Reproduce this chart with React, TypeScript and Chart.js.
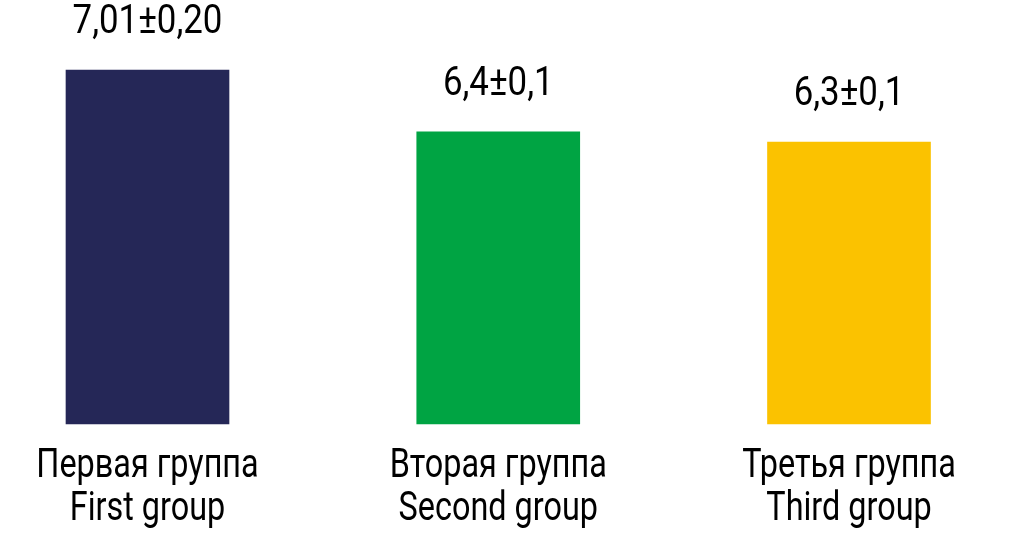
import React, { useEffect, useRef } from "react";
import { Chart, registerables } from "chart.js";

Chart.register(...registerables);

const categories: string[][] = [
  ["Первая группа", "First group"],
  ["Вторая группа", "Second group"],
  ["Третья группа", "Third group"],
];
const values: number[] = [7.01, 6.4, 6.3];
const valueLabels: string[] = ["7,01±0,20", "6,4±0,1", "6,3±0,1"];
const barColors: string[] = ["#252757", "#00a443", "#fbc200"];
const yMin = 3.52;
const yMax = 7.7;

const FONT = 'Roboto, "DejaVu Sans Condensed", sans-serif';
const FONT_SIZE = 41;
const SQUEEZE_VALUE = 0.85;
const SQUEEZE_CAT = 0.79;

function drawSqueezed(ctx: CanvasRenderingContext2D, text: string, x: number, y: number, sx: number) {
  ctx.save();
  ctx.translate(x, y);
  ctx.scale(sx, 1);
  ctx.fillText(text, 0, 0);
  ctx.restore();
}

const labelPlugin = {
  id: "textLabels",
  afterDraw(chart: any) {
    const ctx: CanvasRenderingContext2D = chart.ctx;
    const meta = chart.getDatasetMeta(0);
    const xScale = chart.scales.x;
    const bottom = chart.chartArea.bottom;
    ctx.save();
    ctx.font = `400 ${FONT_SIZE}px ${FONT}`;
    ctx.fillStyle = "#000000";
    ctx.textAlign = "center";
    ctx.textBaseline = "alphabetic";
    meta.data.forEach((bar: any, i: number) => {
      drawSqueezed(ctx, valueLabels[i], bar.x, bar.y - 37, SQUEEZE_VALUE);
    });
    categories.forEach((lines, i) => {
      const x = xScale.getPixelForValue(i);
      lines.forEach((line, j) => {
        drawSqueezed(ctx, line, x, bottom + 53 + j * 43, SQUEEZE_CAT);
      });
    });
    ctx.restore();
  },
};

export default function App() {
  const ref = useRef<HTMLCanvasElement | null>(null);
  useEffect(() => {
    if (!ref.current) return;
    const chart = new Chart(ref.current, {
      type: "bar",
      data: {
        labels: categories.map((c) => c.join(" / ")),
        datasets: [
          {
            data: values,
            backgroundColor: barColors,
            barThickness: 163,
            base: yMin,
            clip: false as any,
          },
        ],
      },
      options: {
        animation: false,
        responsive: true,
        maintainAspectRatio: false,
        layout: { padding: { left: 147.5, right: 161, top: 0, bottom: 115 } },
        plugins: {
          legend: { display: false },
          tooltip: { enabled: false },
        },
        scales: {
          x: {
            display: false,
            offset: false,
          },
          y: {
            display: false,
            min: yMin,
            max: yMax,
          },
        },
      },
      plugins: [labelPlugin],
    });
    return () => chart.destroy();
  }, []);
  return (
    <div style={{ position: "fixed", left: 0, top: 0, width: 1010, height: 539 }}>
      <canvas ref={ref} />
    </div>
  );
}
